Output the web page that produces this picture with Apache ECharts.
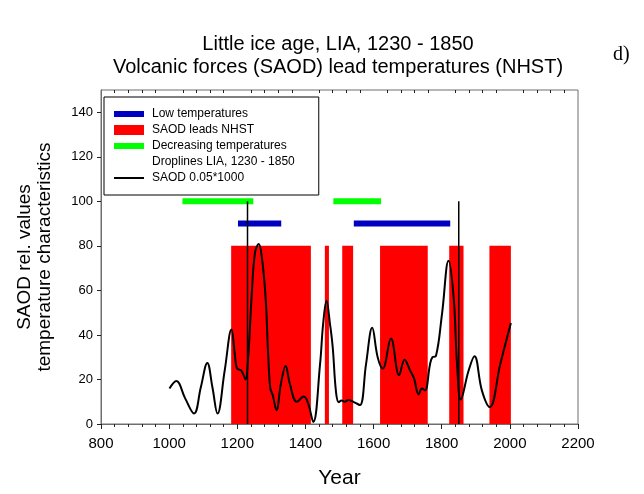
<!DOCTYPE html>
<html>
<head>
<meta charset="utf-8">
<script src="https://cdn.jsdelivr.net/npm/echarts@6/dist/echarts.min.js"></script>
<style>
  html, body { margin: 0; padding: 0; background: #fff; }
  #chart { width: 644px; height: 494px; }
</style>
</head>
<body>
<div id="chart"></div>
<script>
// ---- data ----
const titleLines = ['Little ice age, LIA, 1230 - 1850', 'Volcanic forces (SAOD) lead temperatures (NHST)'];
const panelTag = 'd)';
const yAxisTitle = ['SAOD rel. values', 'temperature characteristics'];
const xAxisTitle = 'Year';

// periods with low temperatures (start, end) drawn at level 90
const lowTempSpans = [[1202, 1329], [1542, 1825]];
const lowTempLevel = 90;
// periods where SAOD leads NHST (start, end), filled from 0 to 80
const saodLeadsSpans = [[1182, 1416], [1457, 1469], [1508, 1540], [1619, 1759], [1822, 1864], [1940, 2003]];
const saodLeadsTop = 80;
// periods with decreasing temperatures (start, end) drawn at level 100
const decreasingSpans = [[1039, 1247], [1482, 1622]];
const decreasingLevel = 100;
// droplines marking the LIA limits
const dropYears = [1230, 1850];
const dropTop = 100;

// SAOD 0.05*1000 curve
const saodYears = [1001, 1021, 1047, 1073, 1093, 1112, 1127, 1142, 1163, 1183, 1193, 1199, 1210, 1217, 1224,
  1232, 1242, 1252, 1263, 1272, 1283, 1291, 1297, 1304, 1315, 1328, 1342, 1354, 1375, 1395, 1408, 1423,
  1443, 1452, 1462, 1472, 1480, 1490, 1498, 1506, 1515, 1526, 1545, 1560, 1578, 1596, 1612, 1627, 1651,
  1675, 1691, 1707, 1719, 1732, 1742, 1751, 1766, 1773, 1783, 1801, 1820, 1835, 1845, 1856, 1879, 1896,
  1918, 1941, 1972, 2003];
const saodValues = [15.9, 19.3, 11.5, 4.7, 16.5, 27.4, 16.5, 4.7, 24, 42.4, 31, 25, 24.2, 22.5, 20,
  30, 57, 77, 80.8, 75, 57, 30, 16, 13, 6.2, 18, 26, 18.2, 10, 12.3, 9.2, 0.9,
  27, 45, 55.3, 45, 34.6, 14, 9.8, 10.6, 10, 10.8, 9.6, 8.5, 27, 43.2, 30, 24.9, 38.4,
  21.9, 28.9, 24.1, 20.4, 13.3, 15.9, 15.1, 27.1, 30, 30.5, 49.6, 73.3, 57, 27.1, 11, 24, 30.4,
  15, 7.6, 27, 45.4];

// ---- styling helpers ----
const SANS = '"Liberation Sans", Arial, sans-serif';
const SERIF = '"Liberation Serif", "Times New Roman", serif';
const FRAME = '#6e6e6e';

// legend icons: 30x10 box, thin bar / line centred with invisible slivers fixing the bounds
const thinBarIcon = 'path://M0,0H30V0.01H0ZM0,2H30V8H0ZM0,9.99H30V10H0Z';
const lineIcon = 'path://M0,0H30V0.01H0ZM0,4H30V6H0ZM0,9.99H30V10H0Z';

function levelBar(thickness) {
  return function (params, api) {
    const a = api.coord([api.value(0), api.value(2)]);
    const b = api.coord([api.value(1), api.value(2)]);
    return {
      type: 'rect',
      shape: { x: a[0], y: a[1] - thickness / 2, width: b[0] - a[0], height: thickness },
      style: { fill: api.visual('color') }
    };
  };
}

function filledSpan(params, api) {
  const a = api.coord([api.value(0), api.value(2)]);
  const b = api.coord([api.value(1), 0]);
  return {
    type: 'rect',
    shape: { x: a[0], y: a[1], width: b[0] - a[0], height: b[1] - a[1] },
    style: { fill: api.visual('color') }
  };
}

function dropline(params, api) {
  const a = api.coord([api.value(0), 0]);
  const b = api.coord([api.value(0), api.value(1)]);
  return {
    type: 'line',
    shape: { x1: a[0], y1: a[1], x2: b[0], y2: b[1] },
    style: { stroke: '#000', lineWidth: 1.5 }
  };
}

const plainNumber = v => String(v);

const chart = echarts.init(document.getElementById('chart'), null, { renderer: 'canvas' });

chart.setOption({
  animation: false,
  backgroundColor: '#fff',
  title: {
    text: titleLines.join('\n'),
    left: 338,
    top: 33,
    padding: 0,
    textAlign: 'center',
    textStyle: { fontFamily: SANS, fontSize: 20, fontWeight: 'normal', color: '#000', lineHeight: 23 }
  },
  graphic: [{
    type: 'text',
    left: 613,
    top: 45,
    style: { text: panelTag, font: '20px ' + SERIF, fill: '#000' }
  }],
  legend: {
    orient: 'vertical',
    left: 104,
    top: 97,
    padding: [11, 24, 11, 10],
    borderColor: '#000',
    borderWidth: 1,
    backgroundColor: '#fff',
    itemWidth: 30,
    itemHeight: 10,
    itemGap: 4,
    textStyle: { fontFamily: SANS, fontSize: 12, color: '#000', lineHeight: 12, padding: [0, 0, 0, 3] },
    data: [
      { name: 'Low temperatures', icon: thinBarIcon },
      { name: 'SAOD leads NHST', icon: 'rect' },
      { name: 'Decreasing temperatures', icon: thinBarIcon },
      { name: 'Droplines LIA, 1230 - 1850', icon: 'rect', itemStyle: { color: 'rgba(0,0,0,0)' } },
      { name: 'SAOD 0.05*1000', icon: lineIcon }
    ]
  },
  grid: {
    left: 101, right: 66, top: 90, bottom: 70,
    show: true, borderColor: FRAME, borderWidth: 1, backgroundColor: 'transparent'
  },
  xAxis: [{
    type: 'value',
    position: 'bottom',
    min: 800, max: 2200, interval: 200,
    name: xAxisTitle,
    nameLocation: 'middle',
    nameGap: 44,
    nameTextStyle: { fontFamily: SANS, fontSize: 21, color: '#000' },
    axisLine: { show: true, lineStyle: { color: FRAME, width: 1 } },
    axisTick: { show: true, length: 5, lineStyle: { color: '#222' } },
    minorTick: { show: true, splitNumber: 5, length: 3, lineStyle: { color: '#222' } },
    axisLabel: { fontFamily: SANS, fontSize: 15, color: '#000', margin: 12, formatter: plainNumber },
    splitLine: { show: false }
  }, {
    type: 'value',
    position: 'top',
    min: 800, max: 2200, interval: 200,
    axisLine: { show: false },
    axisTick: { show: false, inside: true },
    minorTick: { show: true, splitNumber: 5, length: 3, lineStyle: { color: '#222' } },
    axisLabel: { show: false },
    splitLine: { show: false }
  }],
  yAxis: {
    type: 'value',
    min: 0, max: 150, interval: 20,
    name: yAxisTitle.join('\n'),
    nameLocation: 'middle',
    nameGap: 46,
    nameTextStyle: { fontFamily: SANS, fontSize: 19, color: '#000', lineHeight: 20 },
    axisLine: { show: true, lineStyle: { color: FRAME, width: 1 } },
    axisTick: { show: true, length: 4, lineStyle: { color: '#222' } },
    axisLabel: { fontFamily: SANS, fontSize: 13, color: '#000', margin: 8, showMaxLabel: false, formatter: plainNumber },
    splitLine: { show: false }
  },
  series: [
    {
      name: 'SAOD leads NHST',
      type: 'custom',
      z: 1,
      color: '#ff0000',
      renderItem: filledSpan,
      encode: { x: [0, 1], y: 2 },
      data: saodLeadsSpans.map(s => [s[0], s[1], saodLeadsTop])
    },
    {
      name: 'Low temperatures',
      type: 'custom',
      z: 2,
      color: '#0000c0',
      renderItem: levelBar(6),
      encode: { x: [0, 1], y: 2 },
      data: lowTempSpans.map(s => [s[0], s[1], lowTempLevel])
    },
    {
      name: 'Decreasing temperatures',
      type: 'custom',
      z: 2,
      color: '#00ff00',
      renderItem: levelBar(6),
      encode: { x: [0, 1], y: 2 },
      data: decreasingSpans.map(s => [s[0], s[1], decreasingLevel])
    },
    {
      name: 'SAOD 0.05*1000',
      type: 'line',
      z: 3,
      color: '#000',
      smooth: 0.4,
      symbol: 'none',
      lineStyle: { color: '#000', width: 2 },
      data: saodYears.map((y, i) => [y, saodValues[i]])
    },
    {
      name: 'Droplines LIA, 1230 - 1850',
      type: 'custom',
      z: 4,
      color: '#000',
      renderItem: dropline,
      encode: { x: 0, y: 1 },
      data: dropYears.map(y => [y, dropTop])
    }
  ]
});
</script>
</body>
</html>
